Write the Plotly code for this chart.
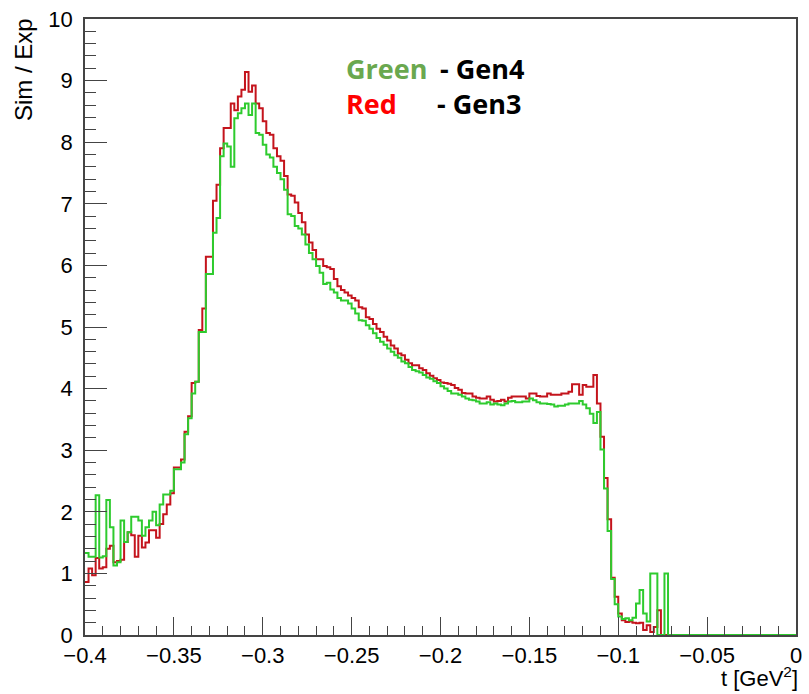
import numpy as np
import plotly.graph_objects as go

# ---- data ----
bin_lo = -0.4
bin_width = 0.002

gen4_green = [
    1.33, 1.27, 1.27, 2.27, 1.26, 1.28, 2.19, 1.75, 1.13, 1.18,
    1.86, 1.51, 1.67, 1.92, 1.92, 1.86, 1.61, 1.75, 1.86, 2.00,
    1.78, 2.12, 2.28, 2.28, 2.34, 2.69, 2.69, 2.80, 3.26, 3.52,
    3.92, 4.11, 4.92, 4.92, 5.86, 5.86, 6.53, 6.77, 7.77, 7.98,
    7.93, 7.60, 8.39, 8.47, 8.55, 8.63, 8.44, 8.63, 8.15, 8.12,
    7.96, 7.80, 7.75, 7.60, 7.50, 7.40, 7.23, 6.83, 6.80, 6.64,
    6.60, 6.50, 6.34, 6.20, 6.10, 5.99, 5.88, 5.70, 5.72, 5.61,
    5.56, 5.47, 5.43, 5.43, 5.38, 5.30, 5.22, 5.11, 5.10, 5.03,
    4.97, 4.90, 4.82, 4.76, 4.71, 4.65, 4.60, 4.54, 4.50, 4.44,
    4.41, 4.35, 4.30, 4.28, 4.26, 4.22, 4.18, 4.16, 4.12, 4.09,
    4.04, 4.00, 3.96, 3.92, 3.92, 3.90, 3.87, 3.84, 3.82, 3.81,
    3.79, 3.76, 3.76, 3.78, 3.74, 3.76, 3.74, 3.73, 3.76, 3.79,
    3.80, 3.78, 3.78, 3.79, 3.79, 3.84, 3.81, 3.78, 3.76, 3.76,
    3.75, 3.74, 3.71, 3.72, 3.72, 3.74, 3.76, 3.76, 3.76, 3.80,
    3.74, 3.68, 3.59, 3.44, 3.62, 3.01, 2.38, 1.69, 0.91, 0.50,
    0.30, 0.26, 0.27, 0.24, 0.28, 0.51, 0.73, 0.35, 0.22, 1.00,
    1.00, 0.00, 0.00, 1.00, 0.00, 0.00, 0.00, 0.00, 0.00, 0.00,
    0.00, 0.00, 0.00, 0.00, 0.00, 0.00, 0.00, 0.00, 0.00, 0.00,
    0.00, 0.00, 0.00, 0.00, 0.00, 0.00, 0.00, 0.00, 0.00, 0.00,
    0.00, 0.00, 0.00, 0.00, 0.00, 0.00, 0.00, 0.00, 0.00, 0.00,
]

gen3_red = [
    0.86, 1.08, 0.97, 1.25, 1.08, 1.10, 1.40, 1.45, 1.18, 1.20,
    1.22, 1.51, 1.67, 1.62, 1.27, 1.61, 1.42, 1.50, 1.70, 1.70,
    1.58, 1.80, 1.96, 2.12, 2.30, 2.72, 2.72, 2.85, 3.30, 3.55,
    4.09, 4.11, 4.95, 5.30, 6.14, 6.14, 7.05, 7.31, 7.90, 8.23,
    8.23, 8.63, 8.52, 8.74, 8.85, 9.14, 8.82, 8.92, 8.63, 8.55,
    8.34, 8.15, 8.12, 7.90, 7.77, 7.70, 7.45, 7.15, 7.13, 7.02,
    6.85, 6.70, 6.50, 6.37, 6.25, 6.10, 6.10, 5.99, 5.97, 5.94,
    5.78, 5.66, 5.60, 5.56, 5.51, 5.47, 5.43, 5.32, 5.30, 5.16,
    5.13, 5.05, 4.97, 4.92, 4.84, 4.78, 4.70, 4.65, 4.57, 4.54,
    4.47, 4.41, 4.38, 4.38, 4.33, 4.30, 4.25, 4.21, 4.17, 4.14,
    4.10, 4.09, 4.08, 4.06, 4.01, 3.98, 3.93, 3.92, 3.92, 3.87,
    3.85, 3.84, 3.84, 3.87, 3.82, 3.79, 3.80, 3.82, 3.79, 3.85,
    3.87, 3.87, 3.87, 3.87, 3.84, 3.92, 3.92, 3.88, 3.87, 3.87,
    3.92, 3.90, 3.90, 3.90, 3.92, 3.92, 3.95, 4.07, 4.07, 3.90,
    4.06, 4.03, 4.03, 4.22, 3.76, 3.22, 2.55, 1.88, 0.93, 0.62,
    0.35, 0.24, 0.21, 0.22, 0.20, 0.19, 0.20, 0.08, 0.16, 0.05,
    0.13, 0.40, 0.00, 0.00, 0.00, 0.00, 0.00, 0.00, 0.00, 0.00,
    0.00, 0.00, 0.00, 0.00, 0.00, 0.00, 0.00, 0.00, 0.00, 0.00,
    0.00, 0.00, 0.00, 0.00, 0.00, 0.00, 0.00, 0.00, 0.00, 0.00,
    0.00, 0.00, 0.00, 0.00, 0.00, 0.00, 0.00, 0.00, 0.00, 0.00,
]

x_ticks = [-0.4, -0.35, -0.3, -0.25, -0.2, -0.15, -0.1, -0.05, 0]
y_ticks = list(range(0, 11))


def step_xy(vals):
    n = len(vals)
    edges = bin_lo + bin_width * np.arange(n + 1)
    ys = list(vals) + [vals[-1]]
    return edges, ys


fig = go.Figure()
xr, yr = step_xy(gen3_red)
fig.add_trace(go.Scatter(x=xr, y=yr, mode="lines", line=dict(shape="hv", color="#c4141c", width=2),
                         showlegend=False, hoverinfo="skip"))
xg, yg = step_xy(gen4_green)
fig.add_trace(go.Scatter(x=xg, y=yg, mode="lines", line=dict(shape="hv", color="#2ecb2e", width=2),
                         showlegend=False, hoverinfo="skip"))

tickfont = dict(family="Liberation Sans, Arial, sans-serif", size=22, color="#000000")
axcol = "#444444"

fig.update_layout(
    width=809, height=694,
    margin=dict(l=85, r=7, t=15, b=59),
    plot_bgcolor="white", paper_bgcolor="white",
    xaxis=dict(
        range=[-0.4, 0], tickvals=x_ticks,
        ticks="inside", ticklen=18, tickwidth=1, tickcolor=axcol,
        minor=dict(dtick=0.01, tick0=-0.4, ticks="inside", ticklen=9, tickwidth=1, tickcolor=axcol, showgrid=False),
        showline=True, linecolor=axcol, linewidth=1.5, mirror=True,
        showgrid=False, zeroline=False, tickfont=tickfont, ticklabelstandoff=0,
        ticklabeloverflow="allow",
    ),
    yaxis=dict(
        range=[0, 10], tickvals=y_ticks,
        ticks="inside", ticklen=22, tickwidth=1, tickcolor=axcol,
        minor=dict(dtick=0.2, tick0=0, ticks="inside", ticklen=11, tickwidth=1, tickcolor=axcol, showgrid=False),
        showline=True, linecolor=axcol, linewidth=1.5, mirror=True,
        showgrid=False, zeroline=False, tickfont=tickfont, ticklabelstandoff=6,
        ticklabeloverflow="allow",
    ),
)


def px_x(px):
    return (px - 85) / 717


def px_y(py):
    return (635 - py) / 620


# axis titles (ROOT style, aligned to axis ends)
fig.add_annotation(text="Sim / Exp", textangle=-90, xref="paper", yref="paper",
                   x=px_x(23), y=px_y(12), xanchor="center", yanchor="top",
                   showarrow=False, font=dict(family="Liberation Sans, Arial, sans-serif", size=24, color="#000"))
fig.add_annotation(text="t [GeV<sup>2</sup>]", xref="paper", yref="paper",
                   x=px_x(806), y=px_y(661), xanchor="right", yanchor="top",
                   showarrow=False, font=dict(family="Liberation Sans, Arial, sans-serif", size=22, color="#000"))

# label text
labfont = dict(family="Open Sans, sans-serif", size=27)

fig.add_annotation(text="<b>Green</b>", xref="paper", yref="paper", x=px_x(346), y=px_y(65),
                   xanchor="left", yanchor="middle", showarrow=False, font=dict(labfont, color="#6aa84f"))
fig.add_annotation(text="<b>- Gen4</b>", xref="paper", yref="paper", x=px_x(441), y=px_y(65),
                   xanchor="left", yanchor="middle", showarrow=False, font=dict(labfont, color="#000000"))
fig.add_annotation(text="<b>Red</b>", xref="paper", yref="paper", x=px_x(346), y=px_y(100),
                   xanchor="left", yanchor="middle", showarrow=False, font=dict(labfont, color="#ff0000"))
fig.add_annotation(text="<b>- Gen3</b>", xref="paper", yref="paper", x=px_x(438), y=px_y(100),
                   xanchor="left", yanchor="middle", showarrow=False, font=dict(labfont, color="#000000"))

fig.write_html("out.html", config={"displayModeBar": False},
               post_script="document.body.style.margin='0';document.body.style.overflow='hidden';")
